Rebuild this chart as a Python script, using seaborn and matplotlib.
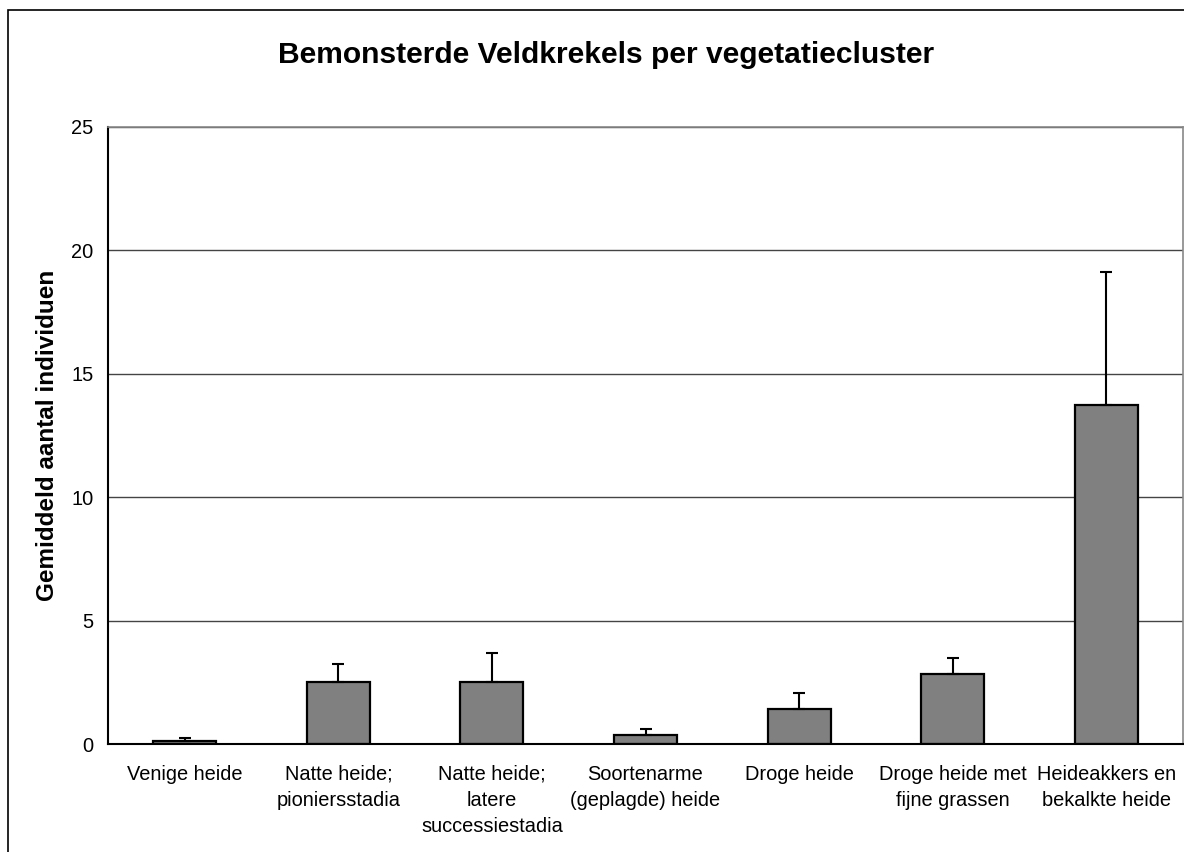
import numpy as np
import pandas as pd
import matplotlib
matplotlib.use("Agg")
import matplotlib.pyplot as plt
import seaborn as sns
from matplotlib.patches import Rectangle

# data
clusters = [
    "Venige heide",
    "Natte heide;\npioniersstadia",
    "Natte heide;\nlatere\nsuccessiestadia",
    "Soortenarme\n(geplagde) heide",
    "Droge heide",
    "Droge heide met\nfijne grassen",
    "Heideakkers en\nbekalkte heide",
]
means = [0.11, 2.5, 2.5, 0.37, 1.42, 2.85, 13.73]
errors = [0.12, 0.74, 1.18, 0.24, 0.64, 0.64, 5.41]
yticks = [0, 5, 10, 15, 20, 25]

df = pd.DataFrame({"cluster": clusters, "mean": means, "err": errors})

sns.set_style("white")
plt.rcParams["font.family"] = ["Liberation Sans", "DejaVu Sans"]
plt.rcParams["text.color"] = "black"
plt.rcParams["axes.labelcolor"] = "black"
plt.rcParams["xtick.color"] = "black"
plt.rcParams["ytick.color"] = "black"

fig = plt.figure(figsize=(11.84, 8.52), dpi=100)
ax = fig.add_axes([108 / 1184, 108 / 852, 1075 / 1184, 617 / 852])

sns.barplot(data=df, x="cluster", y="mean", color="#808080", saturation=1,
            edgecolor="black", linewidth=1.6, width=0.41, errorbar=None, ax=ax)

# upper error bars only
ax.errorbar(range(len(clusters)), df["mean"], yerr=[np.zeros(len(errors)), df["err"]],
            fmt="none", ecolor="black", elinewidth=1.5, capsize=4.5, capthick=1.5, zorder=3)

ax.set_ylim(0, 25)
ax.set_xlim(-0.5, len(clusters) - 0.5)
ax.set_yticks(yticks)
ax.yaxis.grid(True, color="#444444", linewidth=1.0)
ax.set_axisbelow(True)

# category boundaries as major ticks, labels on minor ticks
ax.set_xticks(np.arange(-0.5, len(clusters), 1.0))
ax.set_xticklabels([])
ax.set_xticks(range(len(clusters)), minor=True)
ax.set_xticklabels(clusters, minor=True, fontsize=14.4, linespacing=1.48, va="top")
ax.tick_params(axis="x", which="major", direction="out", length=7, width=1.2, color="black")
ax.tick_params(axis="x", which="minor", length=0, pad=15)
ax.tick_params(axis="y", direction="out", length=4.5, width=1.0, color="black",
               labelsize=14.4, pad=6)

for side in ["left", "bottom"]:
    ax.spines[side].set_color("black")
    ax.spines[side].set_linewidth(1.5)
for side in ["top", "right"]:
    ax.spines[side].set_color("#888888")
    ax.spines[side].set_linewidth(1.2)

ax.set_xlabel("")
ax.set_ylabel("Gemiddeld aantal individuen", fontsize=17.5, fontweight="bold", labelpad=9)

fig.text(606 / 1184, 1 - 55 / 852, "Bemonsterde Veldkrekels per vegetatiecluster",
         ha="center", va="center", fontsize=21.6, fontweight="bold")

# outer chart frame
fig.patches.append(Rectangle((8 / 1184, -0.05), 1.1, 1.05 - 10 / 852, transform=fig.transFigure,
                             fill=False, edgecolor="black", linewidth=1.2))

fig.savefig("out.png", dpi=100)
